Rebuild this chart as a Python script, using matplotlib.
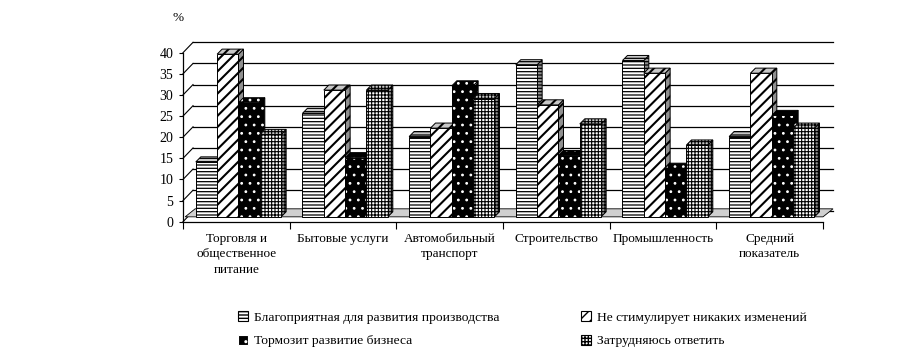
import matplotlib.pyplot as plt
from matplotlib.patches import Patch, Polygon

plt.rcParams["font.family"] = ["Liberation Serif", "DejaVu Serif"]
plt.rcParams["hatch.linewidth"] = 1.0

categories = [
    "Торговля и\nобщественное\nпитание",
    "Бытовые услуги",
    "Автомобильный\nтранспорт",
    "Строительство",
    "Промышленность",
    "Средний\nпоказатель",
]
series_names = [
    "Благоприятная для развития производства",
    "Не стимулирует никаких изменений",
    "Тормозит развитие бизнеса",
    "Затрудняюсь ответить",
]
favourable = [13, 24.5, 19, 36, 37, 19]
no_change = [38.5, 30, 21, 26.5, 34, 34]
hinders = [27, 14, 31, 14.5, 11.5, 24]
hard_to_say = [19.5, 30, 28, 22, 17, 21]
series = [favourable, no_change, hinders, hard_to_say]
y_ticks = [0, 5, 10, 15, 20, 25, 30, 35, 40]

# look of each series: face, hatch colour, hatch, hatch width, top face, side face
styles = [
    dict(face="white", hatch_col="black", hatch="-----", hlw=0.9, top="#c8c8c8", side="#909090"),
    dict(face="white", hatch_col="black", hatch="///", hlw=1.5, top="#c8c8c8", side="#909090"),
    dict(face="black", hatch_col="white", hatch="..", hlw=0.8, top="black", side="black"),
    dict(face="white", hatch_col="black", hatch="+++++", hlw=0.8, top="#c8c8c8", side="#909090"),
]

bar_w = 0.2
bar_start = 0.12
base = 1.15          # bars stand on the floor, a bit above the front axis
bar_dx, bar_dy = 0.047, 1.2
wall_dx, wall_dy = 0.094, 2.46


def hatch_width(p, w):
    if hasattr(p, "set_hatch_linewidth"):
        p.set_hatch_linewidth(w)


fig = plt.figure(figsize=(9.12, 3.6), dpi=100)
ax = fig.add_axes([183 / 912, (360 - 221.7) / 360, 640 / 912, 169 / 360])
ax.set_xlim(0, len(categories))
ax.set_ylim(0, 40)

# back wall grid and left wall diagonals
n = len(categories)
for v in y_ticks:
    ax.plot([wall_dx, n + wall_dx], [v + wall_dy, v + wall_dy], color="black",
            lw=0.9, zorder=1, clip_on=False)
    ax.plot([0, wall_dx], [v, v + wall_dy], color="black", lw=0.8, zorder=1,
            clip_on=False)

# floor
floor = Polygon([(0.02, base), (n, base), (n + wall_dx, base + 1.9),
                 (0.02 + wall_dx, base + 1.9)], closed=True,
                facecolor="#d0d0d0", edgecolor="black", lw=0.6, zorder=1.5,
                clip_on=False)
ax.add_patch(floor)


def draw_bar(x, h, st, z):
    top = base + h
    side = Polygon([(x + bar_w, base), (x + bar_w + bar_dx, base + bar_dy),
                    (x + bar_w + bar_dx, top + bar_dy), (x + bar_w, top)],
                   closed=True, facecolor=st["side"], edgecolor=st["hatch_col"],
                   hatch=st["hatch"], lw=0, zorder=z, clip_on=False)
    lid = Polygon([(x, top), (x + bar_w, top), (x + bar_w + bar_dx, top + bar_dy),
                   (x + bar_dx, top + bar_dy)], closed=True,
                  facecolor=st["top"], edgecolor=st["hatch_col"],
                  hatch=st["hatch"], lw=0, zorder=z, clip_on=False)
    for p in (side, lid):
        hatch_width(p, st["hlw"])
        ax.add_patch(p)
        outline = Polygon(p.get_xy(), closed=True, fill=False, edgecolor="black",
                          lw=0.7, zorder=z, clip_on=False)
        ax.add_patch(outline)
    front = ax.bar(x, h, bar_w, bottom=base, align="edge", color=st["face"],
                   edgecolor=st["hatch_col"], hatch=st["hatch"], lw=0,
                   zorder=z + 0.01)
    for p in front:
        hatch_width(p, st["hlw"])
    ax.bar(x, h, bar_w, bottom=base, align="edge", fill=False,
           edgecolor="black", lw=0.7, zorder=z + 0.02)


z = 3
for g in range(n):
    for s, vals in enumerate(series):
        draw_bar(g + bar_start + s * bar_w, vals[g], styles[s], z)
        z += 0.1

for side_name in ("top", "right"):
    ax.spines[side_name].set_visible(False)
ax.spines["left"].set_bounds(0, 40)
ax.spines["left"].set_linewidth(0.9)
ax.spines["bottom"].set_linewidth(0.9)
ax.spines["bottom"].set_zorder(0.5)

ax.set_yticks(y_ticks)
ax.tick_params(axis="y", direction="out", length=3, width=0.8, pad=4,
               labelsize=10)
ax.set_xticks(range(n + 1))
ax.set_xticklabels([])
ax.tick_params(axis="x", which="major", direction="out", length=5, width=0.8)
ax.set_xticks([g + 0.5 for g in range(n)], minor=True)
ax.set_xticklabels(categories, minor=True, fontsize=9.5, linespacing=1.4,
                   va="top")
ax.tick_params(axis="x", which="minor", length=0, pad=8)

fig.text(178 / 912, 1 - 18 / 360, "%", fontsize=9.5, ha="center", va="center")

handles = []
for st in styles:
    hp = Patch(facecolor=st["face"], edgecolor=st["hatch_col"], hatch=st["hatch"],
               lw=0.8)
    hatch_width(hp, min(st["hlw"], 1.0))
    handles.append(hp)
kw = dict(frameon=False, fontsize=9.7, handlelength=0.75, handleheight=0.75,
          handletextpad=0.4, labelspacing=0.8, borderaxespad=0)
fig.legend([handles[0], handles[2]], [series_names[0], series_names[2]],
           loc="upper left", bbox_to_anchor=(233 / 912, 1 - 306 / 360), **kw)
fig.legend([handles[1], handles[3]], [series_names[1], series_names[3]],
           loc="upper left", bbox_to_anchor=(576 / 912, 1 - 306 / 360), **kw)

fig.savefig("out.png", dpi=100)
